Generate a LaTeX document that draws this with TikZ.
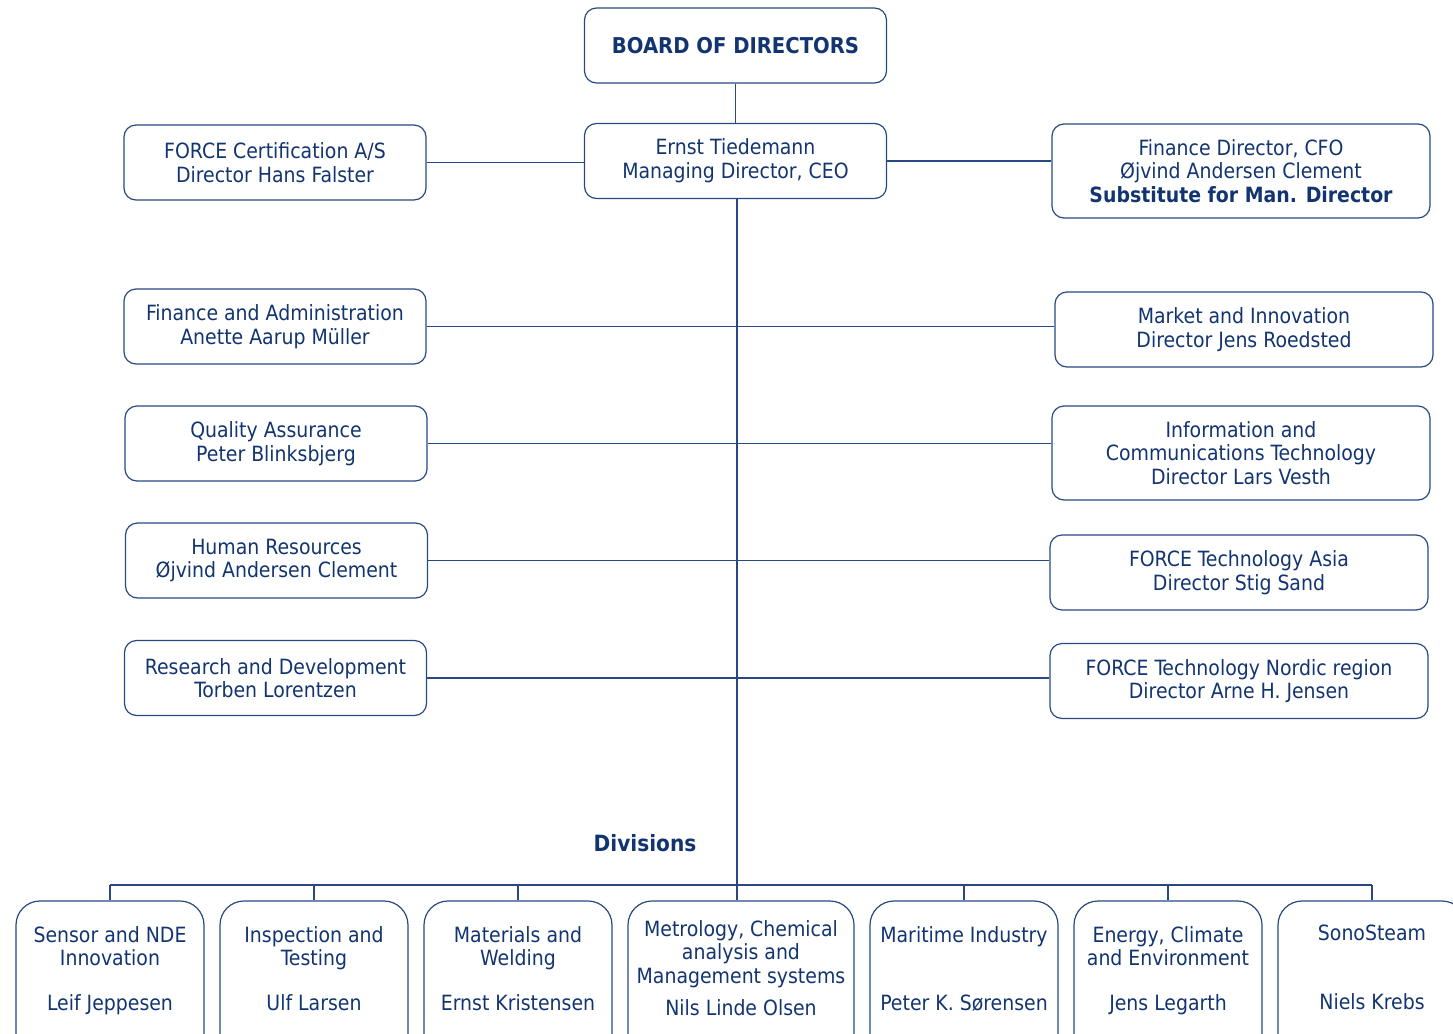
\documentclass[tikz,border=0pt]{standalone}
\usepackage{fontspec}
\setmainfont{DejaVu Sans Condensed}
\definecolor{forcenavy}{RGB}{18,52,112}
\definecolor{forceline}{RGB}{40,72,130}
\begin{document}
\begin{tikzpicture}[x=0.5pt,y=-0.5pt,
        unit/.style={draw=forceline, line width=0.6pt, rounded corners=6pt, text=forcenavy,
                     align=center, font=\fontsize{10.5}{11.8}\selectfont,
                     minimum width=151pt, minimum height=37.5pt, inner sep=0pt},
        wideunit/.style={unit, minimum width=189pt},
        divbox/.style={draw=forceline, line width=0.6pt, rounded corners=12pt,
                       minimum width=94pt, minimum height=90pt, inner sep=0pt},
        divtext/.style={text=forcenavy, align=center, font=\fontsize{10.5}{11.8}\selectfont, inner sep=0pt},
        link/.style={draw=forceline, line width=0.6pt}]
    \useasboundingbox (0,0) rectangle (1453,1034);
    \clip (0,0) rectangle (1453,1034);

    \node [unit, font=\bfseries\fontsize{10.9}{12}\selectfont] (board) at (735.5,45.5) {BOARD OF DIRECTORS};
    \node [unit] (ceo) at (735.5,161) {Ernst Tiedemann\\Managing Director, CEO};

    \node [unit] (cert) at (275,162.5) {FORCE Certification A/S\\Director Hans Falster};
    \node [unit] (finadm) at (275,326.5) {Finance and Administration\\Anette Aarup Müller};
    \node [unit] (qa) at (276,443.5) {Quality Assurance\\Peter Blinksbjerg};
    \node [unit] (hr) at (276.5,560.5) {Human Resources\\Øjvind Andersen Clement};
    \node [unit] (rd) at (275.5,678) {Research and Development\\Torben Lorentzen};

    \node [wideunit, minimum height=47pt] (cfo) at (1241,171) {Finance Director, CFO\\Øjvind Andersen Clement\\\textbf{Substitute for Man. Director}};
    \node [wideunit] (market) at (1244,329.5) {Market and Innovation\\Director Jens Roedsted};
    \node [wideunit, minimum height=47pt] (ict) at (1241,453) {Information and\\Communications Technology\\Director Lars Vesth};
    \node [wideunit] (asia) at (1239,572.5) {FORCE Technology Asia\\Director Stig Sand};
    \node [wideunit] (nordic) at (1239,681) {FORCE Technology Nordic region\\Director Arne H. Jensen};

    \node [divtext, font=\bfseries\fontsize{11.2}{13}\selectfont] (divlabel) at (645,843) {Divisions};
    \coordinate (bus) at (737,885);

    \node [divbox] (sensor) at (110,991) {};
    \node [divbox] (inspect) at (314,991) {};
    \node [divbox] (material) at (518,991) {};
    \node [divbox, minimum width=113pt] (metro) at (741,991) {};
    \node [divbox] (maritime) at (964,991) {};
    \node [divbox] (energy) at (1168,991) {};
    \node [divbox] (sono) at (1372,991) {};

    \node [divtext, anchor=north] (sensorT) at (110,926) {Sensor and NDE\\Innovation};
    \node [divtext, anchor=north] (inspectT) at (314,926) {Inspection and\\Testing};
    \node [divtext, anchor=north] (materialT) at (518,926) {Materials and\\Welding};
    \node [divtext, anchor=north] (metroT) at (741,920) {Metrology, Chemical\\analysis and\\Management systems};
    \node [divtext, anchor=north] (maritimeT) at (964,926) {Maritime Industry};
    \node [divtext, anchor=north] (energyT) at (1168,926) {Energy, Climate\\and Environment};
    \node [divtext, anchor=north] (sonoT) at (1372,925) {SonoSteam};

    \node [divtext, anchor=mid] (sensorN) at (110,1005) {Leif Jeppesen};
    \node [divtext, anchor=mid] (inspectN) at (314,1005) {Ulf Larsen};
    \node [divtext, anchor=mid] (materialN) at (518,1005) {Ernst Kristensen};
    \node [divtext, anchor=mid] (metroN) at (741,1010) {Nils Linde Olsen};
    \node [divtext, anchor=mid] (maritimeN) at (964,1005) {Peter K. Sørensen};
    \node [divtext, anchor=mid] (energyN) at (1168,1005) {Jens Legarth};
    \node [divtext, anchor=mid] (sonoN) at (1372,1004) {Niels Krebs};

    \draw [link] (board) -- (ceo);
    \draw [link] (cert.east) -- (cert.east -| ceo.west);
    \draw [link] (ceo.east) -- (ceo.east -| cfo.west);
    \draw [link] (ceo.south -| bus) -- (bus |- metro.north);
    \draw [link] (finadm.east) -- (finadm.east -| market.west);
    \draw [link] (qa.east) -- (qa.east -| ict.west);
    \draw [link] (hr.east) -- (hr.east -| asia.west);
    \draw [link] (rd.east) -- (rd.east -| nordic.west);

    \draw [link] (sensor.north |- bus) -- (sono.north |- bus);
    \foreach \d in {sensor,inspect,material,maritime,energy,sono}
        \draw [link] (\d.north |- bus) -- (\d.north);

\end{tikzpicture}
\end{document}
